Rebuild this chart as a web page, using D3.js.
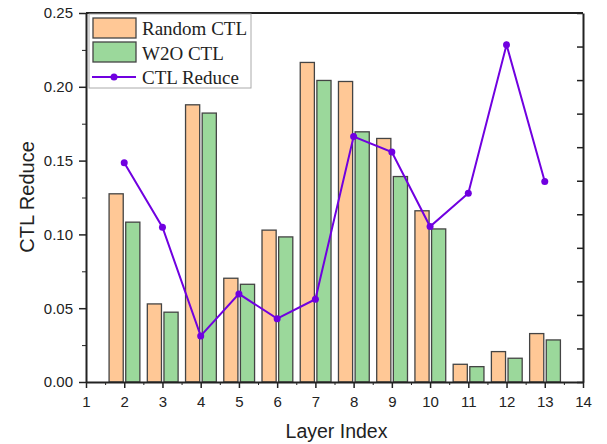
<!DOCTYPE html>
<html>
<head>
<meta charset="utf-8">
<script src="https://cdn.jsdelivr.net/npm/d3@7"></script>
<style>
  body { margin: 0; background: #fff; }
  .axis path, .axis line { stroke: #222; }
  .axis text { font-family: "Liberation Sans", Arial, sans-serif; font-size: 15px; fill: #222; }
</style>
</head>
<body>
<div class="container"></div>
<script>
var WIDTH = 607;
var HEIGHT = 444;

// data
var layers = [2, 3, 4, 5, 6, 7, 8, 9, 10, 11, 12, 13];
var randomCTL = [0.1275, 0.0529, 0.1878, 0.0703, 0.1029, 0.2165, 0.2036, 0.165, 0.116, 0.012, 0.0206, 0.0328];
var w2oCTL = [0.1083, 0.0473, 0.1822, 0.0662, 0.0983, 0.2043, 0.1695, 0.1392, 0.1037, 0.0104, 0.0161, 0.0285];
var ctlReduce = [0.1485, 0.1049, 0.0312, 0.0597, 0.0429, 0.0561, 0.1663, 0.1558, 0.1053, 0.1279, 0.2285, 0.1358];

var xTicks = [1, 2, 3, 4, 5, 6, 7, 8, 9, 10, 11, 12, 13, 14];
var yTicks = [0, 0.05, 0.10, 0.15, 0.20, 0.25];
var seriesNames = ['Random CTL', 'W2O CTL', 'CTL Reduce'];

var ORANGE = '#ffc896';
var GREEN = '#9bd89b';
var PURPLE = '#7000e0';

var translate = function (x, y) {
  return 'translate(' + x + ',' + y + ')';
};

var margin = {left: 86, top: 13, right: 24, bottom: 62};
var w = WIDTH - margin.left - margin.right;
var h = HEIGHT - margin.top - margin.bottom;

var xScale = d3.scaleLinear().domain([1, 14]).range([0, w]);
var yScale = d3.scaleLinear().domain([0, 0.25]).range([h, 0]);
var yRight = d3.scaleLinear().domain([0, 11]).range([h, 0]);

var svg = d3.select('.container').append('svg')
    .attr('width', WIDTH)
    .attr('height', HEIGHT);

var g = svg.append('g').attr('transform', translate(margin.left, margin.top));

var barW = xScale(1.37) - xScale(1);
var gap = 1;

// bars
g.selectAll('.bar-r').data(layers).enter().append('rect')
    .attr('x', function(d) { return xScale(d) - gap - barW; })
    .attr('y', function(d, i) { return yScale(randomCTL[i]); })
    .attr('width', barW)
    .attr('height', function(d, i) { return h - yScale(randomCTL[i]); })
    .attr('fill', ORANGE)
    .attr('stroke', '#444')
    .attr('stroke-width', 1.3);

g.selectAll('.bar-g').data(layers).enter().append('rect')
    .attr('x', function(d) { return xScale(d) + gap + 0.5; })
    .attr('y', function(d, i) { return yScale(w2oCTL[i]); })
    .attr('width', barW)
    .attr('height', function(d, i) { return h - yScale(w2oCTL[i]); })
    .attr('fill', GREEN)
    .attr('stroke', '#444')
    .attr('stroke-width', 1.3);

// line
var line = d3.line()
    .x(function(d) { return xScale(d); })
    .y(function(d, i) { return yScale(ctlReduce[i]); });

g.append('path')
    .datum(layers)
    .attr('d', line)
    .attr('fill', 'none')
    .attr('stroke', PURPLE)
    .attr('stroke-width', 2);

g.selectAll('.pt').data(layers).enter().append('circle')
    .attr('cx', function(d) { return xScale(d); })
    .attr('cy', function(d, i) { return yScale(ctlReduce[i]); })
    .attr('r', 3.5)
    .attr('fill', PURPLE);

// axes
var xMinor = d3.range(1.5, 14, 1);
var yMinor = d3.range(0.025, 0.25, 0.05);

g.append('g').attr('class', 'axis')
    .attr('transform', translate(0, h))
    .call(d3.axisBottom(xScale).tickValues(xMinor).tickSize(3).tickFormat(''))
    .call(function(a) { a.select('.domain').remove(); });

g.append('g').attr('class', 'axis')
    .attr('transform', translate(0, h))
    .call(d3.axisBottom(xScale).tickValues(xTicks).tickSize(6).tickSizeOuter(0).tickPadding(8).tickFormat(d3.format('d')))
    .call(function(a) { a.select('.domain').attr('stroke-width', 2); a.selectAll('line').attr('stroke-width', 1.5); });

g.append('g').attr('class', 'axis')
    .call(d3.axisLeft(yScale).tickValues(yMinor).tickSize(4).tickFormat(''))
    .call(function(a) { a.select('.domain').remove(); });

g.append('g').attr('class', 'axis')
    .call(d3.axisLeft(yScale).tickValues(yTicks).tickSize(7).tickSizeOuter(0).tickPadding(6).tickFormat(d3.format('.2f')))
    .call(function(a) { a.select('.domain').attr('stroke-width', 2); a.selectAll('line').attr('stroke-width', 1.5); });

g.append('g').attr('class', 'axis')
    .attr('transform', translate(w, 0))
    .call(d3.axisLeft(yRight).ticks(11).tickSize(6).tickSizeOuter(0).tickFormat(''))
    .call(function(a) { a.select('.domain').attr('stroke-width', 2); a.selectAll('line').attr('stroke-width', 1.5); });

g.append('line')
    .attr('x1', 0).attr('x2', w).attr('y1', 0).attr('y2', 0)
    .attr('stroke', '#222').attr('stroke-width', 2);

// axis titles
svg.append('text')
    .attr('transform', translate(WIDTH / 2 + 33, 438))
    .attr('text-anchor', 'middle')
    .style('font-family', '"Liberation Sans", Arial, sans-serif')
    .style('font-size', '19.5px')
    .attr('fill', '#222')
    .text('Layer Index');

svg.append('text')
    .attr('transform', translate(34, 197) + ' rotate(-90)')
    .attr('text-anchor', 'middle')
    .style('font-family', '"Liberation Sans", Arial, sans-serif')
    .style('font-size', '20px')
    .attr('fill', '#222')
    .text('CTL Reduce');

// legend
var legend = svg.append('g').attr('transform', translate(89, 14));
legend.append('rect')
    .attr('width', 162).attr('height', 74)
    .attr('fill', '#fff').attr('stroke', '#aaa').attr('stroke-width', 1);

var rowY = [4, 28];
var fills = [ORANGE, GREEN];
fills.forEach(function(f, i) {
  legend.append('rect')
      .attr('x', 4).attr('y', rowY[i])
      .attr('width', 43).attr('height', 20)
      .attr('fill', f).attr('stroke', '#444').attr('stroke-width', 1.3);
});
legend.append('line')
    .attr('x1', 3).attr('x2', 47).attr('y1', 63).attr('y2', 63)
    .attr('stroke', PURPLE).attr('stroke-width', 2);
legend.append('circle')
    .attr('cx', 25).attr('cy', 63).attr('r', 3.5).attr('fill', PURPLE);

legend.selectAll('.lt').data(seriesNames).enter().append('text')
    .attr('x', 53)
    .attr('y', function(d, i) { return 21 + i * 24.5; })
    .style('font-family', '"Liberation Serif", "Times New Roman", serif')
    .style('font-size', '19px')
    .attr('fill', '#222')
    .text(function(d) { return d; });
</script>
</body>
</html>
